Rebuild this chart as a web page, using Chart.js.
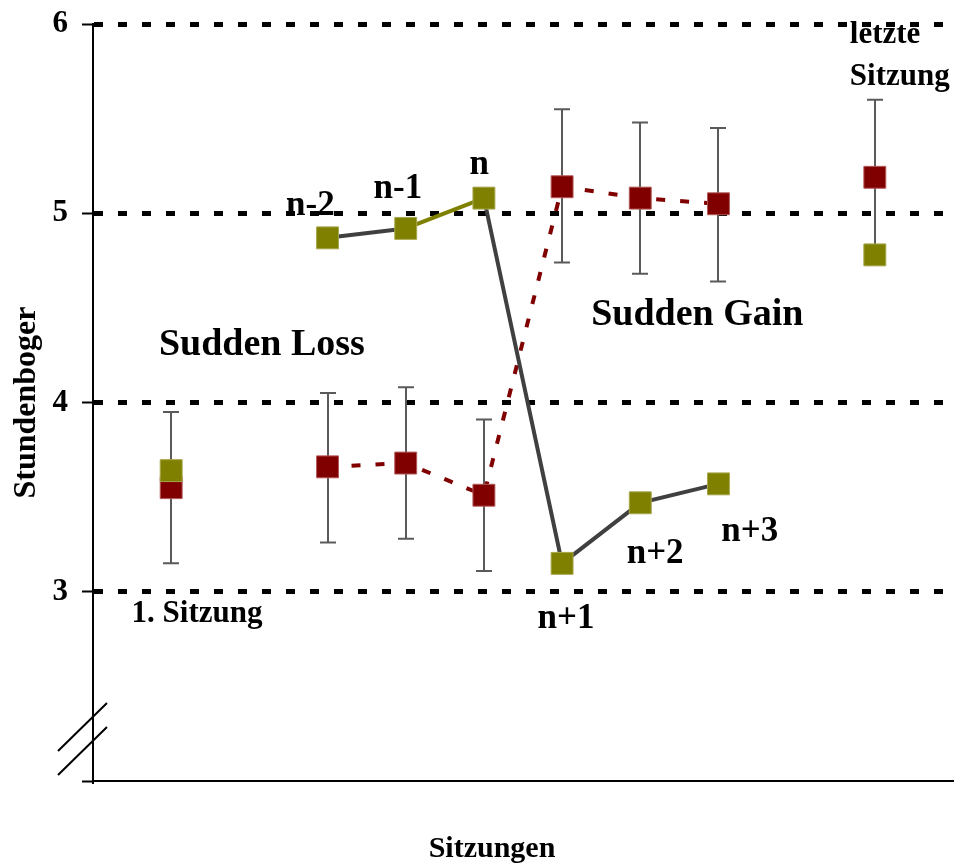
<!DOCTYPE html>
<html>
<head>
<meta charset="utf-8">
<script src="https://cdn.jsdelivr.net/npm/chart.js@4/dist/chart.umd.min.js"></script>
<style>
  html, body { margin: 0; padding: 0; background: #ffffff; }
  #wrap { width: 956px; height: 865px; }
</style>
</head>
<body>
<div id="wrap"><canvas id="chart" width="956" height="865"></canvas></div>
<script>
// Sessions along the x axis; blank slots stand for the sessions in between.
const sessions = ['', '1. Sitzung', '', 'n-2', 'n-1', 'n', 'n+1', 'n+2', 'n+3', '', 'letzte Sitzung', ''];

// Mean Stundenbogen score per session
const suddenLoss = [null, 3.64, null, 4.87, 4.92, 5.08, 3.15, 3.47, 3.57, null, 4.78, null];
const suddenGain = [null, 3.55, null, 3.66, 3.68, 3.51, 5.14, 5.08, 5.05, null, 5.19, null];

// Spread (upper / lower whisker) around the sudden-gain means
const gainUpper = [null, 3.95, null, 4.05, 4.08, 3.91, 5.55, 5.48, 5.45, null, 5.60, null];
const gainLower = [null, 3.15, null, 3.26, 3.28, 3.11, 4.74, 4.68, 4.64, null, 4.80, null];

const yTicks = [3, 4, 5, 6];

const OLIVE = '#808000';
const MAROON = '#800000';
const DARK = '#404040';
const SERIF = '"Liberation Serif", "Times New Roman", serif';

// Text placed inside the plot: [text, session index, score, font size, align]
const notes = [
  ['n-2', 2.78, 4.99, 35, 'center'],
  ['n-1', 3.90, 5.08, 35, 'center'],
  ['n', 4.94, 5.21, 35, 'center'],
  ['n+1', 6.05, 2.81, 35, 'center'],
  ['n+2', 7.19, 3.15, 35, 'center'],
  ['n+3', 8.40, 3.27, 35, 'center'],
  ['1. Sitzung', 1.33, 2.84, 31, 'center'],
  ['letzte', 9.68, 5.90, 31, 'left'],
  ['Sitzung', 9.68, 5.68, 31, 'left'],
  ['Sudden Loss', 2.16, 4.25, 38, 'center'],
  ['Sudden Gain', 7.73, 4.41, 38, 'center']
];

const markerRadius = c => (c.raw == null ? 0 : 15.5);

const extras = {
  id: 'extras',
  beforeDatasetsDraw(chart) {
    const { ctx, scales: { x, y } } = chart;
    ctx.save();
    ctx.strokeStyle = '#5a5a5a';
    ctx.lineWidth = 2;
    for (let i = 0; i < sessions.length; i++) {
      if (gainUpper[i] == null || gainLower[i] == null) continue;
      const px = Math.round(x.getPixelForValue(i));
      const yt = y.getPixelForValue(gainUpper[i]);
      const yb = y.getPixelForValue(gainLower[i]);
      ctx.beginPath();
      ctx.moveTo(px, yt); ctx.lineTo(px, yb);
      ctx.moveTo(px - 8, yt); ctx.lineTo(px + 8, yt);
      ctx.moveTo(px - 8, yb); ctx.lineTo(px + 8, yb);
      ctx.stroke();
    }
    ctx.restore();
  },
  afterDraw(chart) {
    const { ctx, chartArea, scales: { x, y } } = chart;
    ctx.save();
    ctx.fillStyle = '#000';
    ctx.textBaseline = 'alphabetic';
    for (const [text, xi, yv, size, align] of notes) {
      ctx.font = `bold ${size}px ${SERIF}`;
      ctx.textAlign = align;
      ctx.fillText(text, x.getPixelForValue(xi), y.getPixelForValue(yv));
    }
    // x axis title
    ctx.font = `bold 30px ${SERIF}`;
    ctx.textAlign = 'center';
    ctx.fillText('Sitzungen', 492, 857);

    // axis break marks on the y axis
    const l = chartArea.left, b = chartArea.bottom;
    ctx.strokeStyle = '#000';
    ctx.lineWidth = 2;
    ctx.beginPath();
    ctx.moveTo(l - 35, b - 30); ctx.lineTo(l + 14, b - 78);
    ctx.moveTo(l - 35, b - 6); ctx.lineTo(l + 14, b - 54);
    ctx.stroke();
    ctx.restore();
  }
};

new Chart(document.getElementById('chart'), {
  type: 'line',
  data: {
    labels: sessions,
    datasets: [
      {
        label: 'Sudden Loss',
        data: suddenLoss,
        borderColor: DARK,
        borderWidth: 4,
        segment: {
          borderColor: c => (c.p0DataIndex === 4 ? OLIVE : DARK)
        },
        pointStyle: 'rect',
        pointRadius: markerRadius,
        pointBackgroundColor: OLIVE,
        pointBorderColor: '#a6a64d',
        pointBorderWidth: 1,
        spanGaps: false,
        tension: 0
      },
      {
        label: 'Sudden Gain',
        data: suddenGain,
        borderColor: MAROON,
        borderWidth: 4,
        borderDash: [9, 15],
        pointStyle: 'rect',
        pointRadius: markerRadius,
        pointBackgroundColor: MAROON,
        pointBorderColor: '#b45a5a',
        pointBorderWidth: 1,
        spanGaps: false,
        tension: 0
      }
    ]
  },
  options: {
    responsive: false,
    animation: false,
    events: [],
    layout: { padding: { top: 24, right: 3, left: 0, bottom: 0 } },
    plugins: { legend: { display: false }, tooltip: { enabled: false } },
    scales: {
      x: {
        type: 'category',
        offset: false,
        grid: { display: false },
        border: { display: true, color: '#000', width: 2 },
        ticks: { display: false },
        afterFit: s => { s.height = 84; }
      },
      y: {
        min: 2,
        max: 6,
        afterBuildTicks: s => { s.ticks = [2, ...yTicks].map(v => ({ value: v })); },
        ticks: {
          callback: v => (yTicks.includes(v) ? String(v) : ''),
          color: '#000',
          padding: 14,
          font: { family: SERIF, size: 31, weight: 'bold', lineHeight: 0.6 }
        },
        grid: {
          color: c => (c.tick && c.tick.value === 2 ? 'rgba(0,0,0,0)' : '#000'),
          lineWidth: 5,
          tickColor: '#000',
          tickWidth: 2,
          tickLength: 11,
          tickBorderDash: []
        },
        border: { display: true, color: '#000', width: 2, dash: [9, 15] },
        title: {
          display: true,
          text: 'Stundenboger',
          color: '#000',
          font: { family: SERIF, size: 32, weight: 'bold' },
          padding: { top: 8, bottom: 0 }
        },
        afterFit: s => { s.width = 93; }
      }
    }
  },
  plugins: [extras]
});
</script>
</body>
</html>
